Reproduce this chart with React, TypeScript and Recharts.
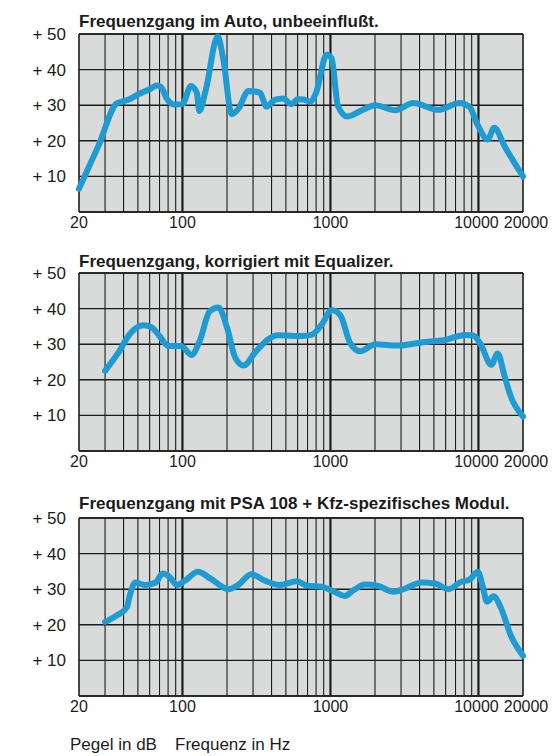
import { CartesianGrid, Line, LineChart, ReferenceLine, XAxis, YAxis } from "recharts"

// Frequenzgang im Auto, unbeeinflußt
const autoFreq = [20, 27, 36, 43, 50, 60, 67, 72, 78, 88, 100, 114, 125, 130, 144, 173, 189, 215, 238, 279, 334, 370, 420, 478, 545, 600, 660, 728, 800, 943, 1018, 1124, 1295, 1635, 2010, 2740, 3630, 5350, 7450, 8700, 9860, 11550, 12800, 14950, 20000]
const autoDb = [6.5, 18.5, 30.5, 31.5, 33, 34.5, 35.5, 35, 32, 30.2, 30.3, 35.4, 33.5, 28.4, 34.4, 49.3, 42.8, 27.5, 28.9, 34, 33.5, 29.6, 31.5, 31.9, 30.3, 31.7, 31.6, 31, 33.5, 44.2, 43.2, 29.8, 26.8, 28.6, 30, 28.6, 30.6, 28.7, 30.6, 29.5, 24.5, 20.4, 23.7, 18.6, 10]

// Frequenzgang, korrigiert mit Equalizer
const eqFreq = [30, 37, 44, 54.5, 62, 70, 80, 98, 115, 131, 153, 175, 200, 227, 259, 310, 380, 444, 640, 740, 870, 1018, 1164, 1360, 1590, 2010, 2880, 4130, 5950, 8140, 9270, 10400, 12200, 13500, 14950, 16550, 20000]
const eqDb = [22.5, 27.7, 32.8, 35.3, 34.7, 32.3, 29.5, 29.5, 27, 31, 39.3, 40.3, 34.7, 26.3, 24, 27.7, 31.4, 32.5, 32.3, 32.6, 35.4, 39.6, 38.2, 30.3, 28, 30, 29.6, 30.5, 31.2, 32.6, 32.4, 29.8, 24.2, 27.4, 21.3, 15.3, 9.7]

// Frequenzgang mit PSA 108 + Kfz-spezifisches Modul
const psaFreq = [30, 35.5, 42, 44, 48, 56, 66, 73.5, 82.5, 91.5, 104, 127, 157, 204, 238, 292, 360, 456, 593, 700, 870, 1070, 1250, 1430, 1710, 2100, 2670, 3200, 4130, 5100, 6260, 7650, 8700, 9900, 10700, 11400, 12650, 14100, 16550, 20000]
const psaDb = [20.8, 22.5, 24.8, 28.1, 31.9, 31.2, 31.9, 34.4, 33.3, 31.2, 32.4, 34.9, 32.8, 30, 31.2, 34.2, 32.4, 31.2, 32.2, 31, 30.7, 29.2, 28.1, 29.7, 31.3, 30.9, 29.3, 30.2, 31.9, 31.6, 30, 32.1, 32.7, 34.9, 30.7, 26.5, 28, 25, 17, 11.3]

const minorFreqs = [30, 40, 50, 60, 70, 80, 90, 200, 300, 400, 500, 600, 700, 800, 900, 2000, 3000, 4000, 5000, 6000, 7000, 8000, 9000]
const decadeFreqs = [100, 1000, 10000]
const xTicks = [20, 100, 1000, 10000, 20000]
const xTickLabels = ["20", "100", "1000", "10000", "20000"]
const yTicks = [10, 20, 30, 40, 50]

const titles = [
    "Frequenzgang im Auto, unbeeinflußt.",
    "Frequenzgang, korrigiert mit Equalizer.",
    "Frequenzgang mit PSA 108 + Kfz-spezifisches Modul.",
]

const FONT = '"Liberation Sans", Arial, sans-serif'
const INK = "#1c1c1c"
const BLUE = "#1e9bd3"

const toRows = (f: number[], d: number[]) => f.map((x, i) => ({ f: x, db: d[i] }))

// small nudges so "10000" and "20000" don't collide, as in the print
const FreqTick = (props: any) => {
    const { x, y, payload } = props
    const i = xTicks.indexOf(payload.value)
    const dx = payload.value === 20000 ? 3 : payload.value === 10000 ? -2 : 0
    return (
        <text x={x + dx} y={y - 3} dy="0.71em" textAnchor="middle" fill={INK} fontSize={16} fontFamily={FONT}>
            {xTickLabels[i] ?? String(payload.value)}
        </text>
    )
}

const Panel = ({ rows }: { rows: { f: number; db: number }[] }) => (
    <LineChart width={550} height={222} data={rows} margin={{ top: 12, right: 35, bottom: 0, left: 0 }}>
        <CartesianGrid fill="#d8dbda" fillOpacity={1} vertical={false} stroke={INK} strokeWidth={1.4} strokeOpacity={1} />
        <XAxis
            dataKey="f"
            type="number"
            scale="log"
            domain={[20, 20000]}
            ticks={xTicks}
            interval={0}
            axisLine={false}
            tickLine={false}
            height={32}
            tick={<FreqTick />}
        />
        <YAxis
            type="number"
            domain={[0, 50]}
            ticks={yTicks}
            interval={0}
            tickFormatter={(v: number) => `+ ${v}`}
            axisLine={false}
            tickLine={false}
            width={71}
            tickMargin={7}
            tick={{ fill: INK, fontSize: 17, fontFamily: FONT }}
        />
        {minorFreqs.map((f) => (
            <ReferenceLine key={f} x={f} stroke={INK} strokeWidth={1.1} />
        ))}
        {decadeFreqs.map((f) => (
            <ReferenceLine key={f} x={f} stroke={INK} strokeWidth={2.2} />
        ))}
        <ReferenceLine x={20} stroke={INK} strokeWidth={1.6} />
        <ReferenceLine x={20000} stroke={INK} strokeWidth={1.6} />
        <ReferenceLine y={0} stroke={INK} strokeWidth={1.6} />
        <ReferenceLine y={50} stroke={INK} strokeWidth={1.6} />
        <Line dataKey="db" type="monotone" stroke={BLUE} strokeWidth={6} dot={false} isAnimationActive={false} strokeLinecap="round" strokeLinejoin="round" />
    </LineChart>
)

const titleStyle = (top: number): React.CSSProperties => ({
    position: "absolute",
    left: 71,
    top,
    fontSize: 17,
    fontWeight: 700,
    color: INK,
    whiteSpace: "nowrap",
})

export default function App() {
    return (
        <div style={{ position: "relative", width: 550, height: 748, fontFamily: FONT }}>
            <div style={titleStyle(4)}>{titles[0]}</div>
            <div style={{ position: "absolute", left: 0, top: 14 }}>
                <Panel rows={toRows(autoFreq, autoDb)} />
            </div>
            <div style={titleStyle(244)}>{titles[1]}</div>
            <div style={{ position: "absolute", left: 0, top: 253 }}>
                <Panel rows={toRows(eqFreq, eqDb)} />
            </div>
            <div style={titleStyle(486)}>{titles[2]}</div>
            <div style={{ position: "absolute", left: 0, top: 498 }}>
                <Panel rows={toRows(psaFreq, psaDb)} />
            </div>
            <div style={{ position: "absolute", left: 62, top: 727, fontSize: 17, color: INK, whiteSpace: "nowrap" }}>Pegel in dB</div>
            <div style={{ position: "absolute", left: 167, top: 727, fontSize: 17, color: INK, whiteSpace: "nowrap" }}>Frequenz in Hz</div>
        </div>
    )
}
